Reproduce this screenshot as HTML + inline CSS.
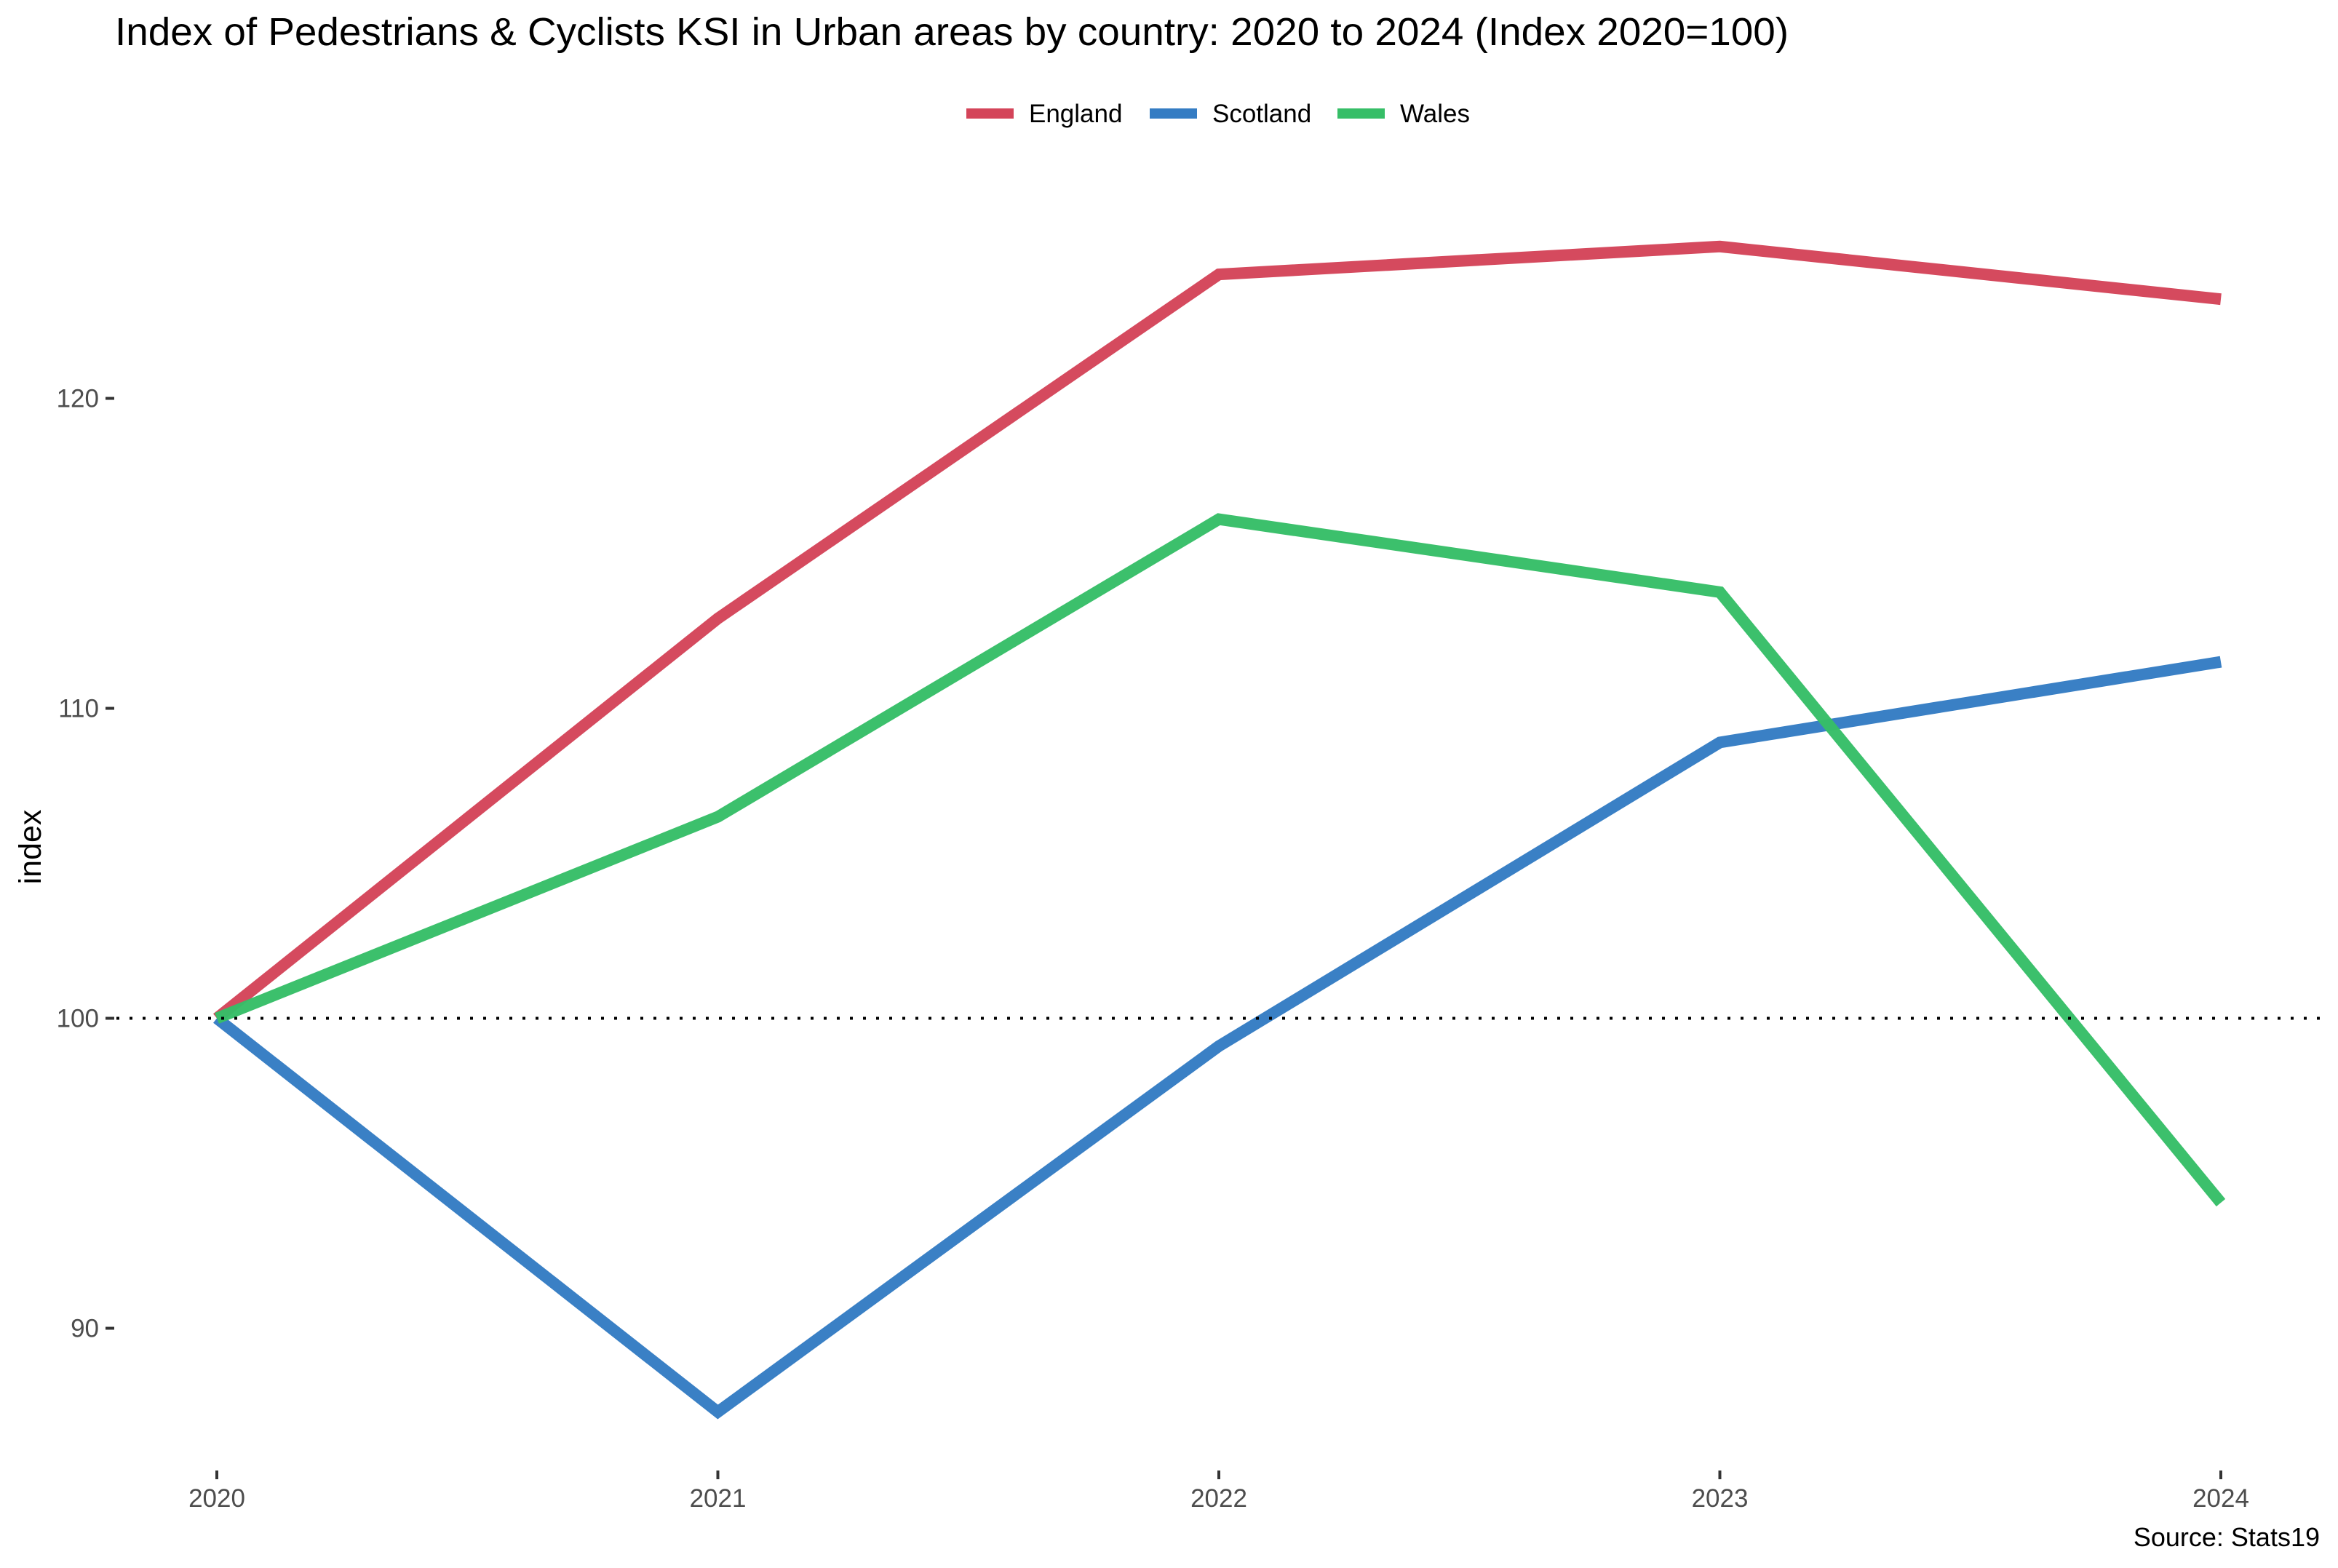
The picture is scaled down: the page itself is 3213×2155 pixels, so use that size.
<!DOCTYPE html>
<html><head><meta charset="utf-8">
<style>
html,body{margin:0;padding:0;background:#fff;}
svg{display:block;font-family:"Liberation Sans",Arial,sans-serif;}
</style></head>
<body>
<svg id="chart" width="3213" height="2155" viewBox="0 0 3213 2155" xmlns="http://www.w3.org/2000/svg">
<rect x="0" y="0" width="3213" height="2155" fill="#fff"/>
<text x="158" y="62" font-size="54" fill="#000" textLength="2300" lengthAdjust="spacingAndGlyphs">Index of Pedestrians &amp; Cyclists KSI in Urban areas by country: 2020 to 2024 (Index 2020=100)</text>
<text transform="translate(56,1164) rotate(-90)" text-anchor="middle" font-size="43" fill="#000">index</text>
<text x="3188" y="2125" text-anchor="end" font-size="36" fill="#000">Source: Stats19</text>
<g id="legend"></g>
<g id="axes"></g>
<g id="series"></g>
<g id="refline"></g>
</svg>
<script>
const years = [2020, 2021, 2022, 2023, 2024];
const england = [100, 112.9, 124.0, 124.9, 123.2];
const scotland = [100, 87.3, 99.1, 108.9, 111.5];
const wales = [100, 106.5, 116.1, 113.75, 94.05];
const yTicks = [90, 100, 110, 120];
const seriesNames = ["England", "Scotland", "Wales"];
const seriesColors = ["#d44459", "#347cc3", "#36be67"];

const NS = "http://www.w3.org/2000/svg";
function xScale(yr){ return 298 + (yr - 2020) * (3052 - 298) / 4; }
function yScale(v){ return 1399.5 - (v - 100) * 42.6; }
function mk(tag, attrs, parent){
  const e = document.createElementNS(NS, tag);
  for (const k in attrs) e.setAttribute(k, attrs[k]);
  parent.appendChild(e);
  return e;
}
const axes = document.getElementById('axes');
yTicks.forEach(t => {
  const y = yScale(t);
  const tk = mk('line', {x1:145, x2:157, y1:y, y2:y, stroke:'#333', 'stroke-width':4}, axes);
  
  
  const lb = mk('text', {x:136, y:y+12, 'text-anchor':'end', 'font-size':35, fill:'#4d4d4d'}, axes);
  lb.textContent = t;
  
  
});
years.forEach(yr => {
  const x = xScale(yr);
  const tk = mk('line', {x1:x, x2:x, y1:2021, y2:2033, stroke:'#333', 'stroke-width':4}, axes);
  
  
  const lb = mk('text', {x:x, y:2071, 'text-anchor':'middle', 'font-size':35, fill:'#4d4d4d'}, axes);
  lb.textContent = yr;
  
  
});

const seriesG = document.getElementById('series');
[england, scotland, wales].forEach((vals, i) => {
  const pts = vals.map((v, j) => xScale(years[j]).toFixed(1) + ',' + yScale(v).toFixed(1)).join(' ');
  const pl = mk('polyline', {points:pts, fill:'none', stroke:seriesColors[i], 'stroke-width':16, 'stroke-linejoin':'miter', 'stroke-linecap':'butt', opacity:0.97}, seriesG);
  
  
});

const ref = document.getElementById('refline');
const rl = mk('line', {x1:160, x2:3190, y1:yScale(100), y2:yScale(100), stroke:'#000', 'stroke-width':4, 'stroke-dasharray':'4 14'}, ref);



const legend = document.getElementById('legend');
const legX = [1328, 1580, 1838];
seriesNames.forEach((n, i) => {
  const sw = mk('line', {x1:legX[i], x2:legX[i]+65, y1:156, y2:156, stroke:seriesColors[i], 'stroke-width':14}, legend);
  
  
  const tx = mk('text', {x:legX[i]+86, y:168, 'font-size':35, fill:'#000'}, legend);
  tx.textContent = n;
  
  
});
</script>
</body></html>
